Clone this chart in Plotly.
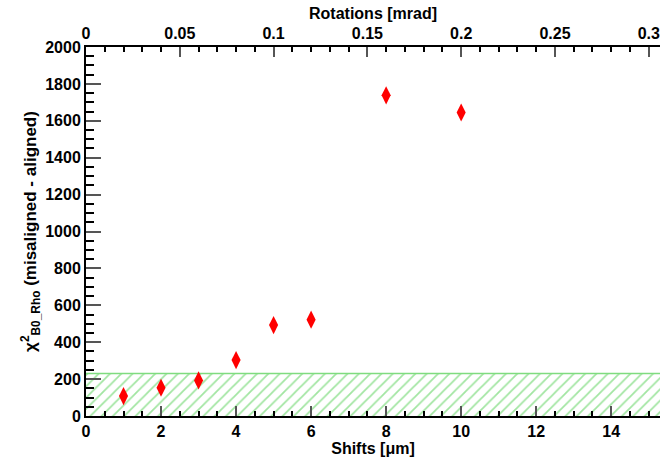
import plotly.graph_objects as go

shifts = [1, 2, 3, 4, 5, 6, 8, 10]
chi2 = [108, 153, 193, 303, 493, 522, 1738, 1645]
band_x = [0, 15.3, 15.3, 0]
band_y = [0, 0, 230, 230]

FONT = "Liberation Sans, Arial, sans-serif"

fig = go.Figure()
fig.add_trace(go.Scatter(
    x=band_x, y=band_y, fill="toself", mode="lines",
    line=dict(color="rgba(0,0,0,0)", width=0),
    fillcolor="white",
    fillpattern=dict(shape="/", fgcolor="#44cc44", bgcolor="white", size=8, solidity=0.22),
    hoverinfo="skip", showlegend=False))
fig.add_trace(go.Scatter(
    x=[0, 15.3], y=[230, 230], mode="lines",
    line=dict(color="#7fdc7f", width=1.5), showlegend=False, hoverinfo="skip"))
fig.add_trace(go.Scatter(
    x=shifts, y=chi2, mode="markers",
    marker=dict(symbol="diamond-tall", size=13, color="red"),
    showlegend=False))
fig.add_trace(go.Scatter(x=[0], y=[0], xaxis="x2", mode="markers",
                         marker=dict(opacity=0), showlegend=False, hoverinfo="skip"))

tickfont = dict(family=FONT, size=16, color="black", weight=700)
titlefont = dict(family=FONT, size=16, color="black", weight=700)
bold = dict(tickprefix="<b>", ticksuffix="</b>")

fig.update_layout(
    width=660, height=458,
    margin=dict(l=86, r=0, t=47, b=42),
    plot_bgcolor="white", paper_bgcolor="white",
    xaxis=dict(range=[0, 15.3], dtick=2, tick0=0, ticks="inside", ticklen=10,
               tickcolor="#555", tickwidth=1.5, showgrid=False, zeroline=False,
               showline=True, linecolor="black", linewidth=2,
               tickfont=tickfont, **bold,
               title=dict(text="<b>Shifts [μm]</b>", font=titlefont, standoff=1),
               minor=dict(dtick=0.5, ticks="inside", ticklen=5, tickcolor="black", showgrid=False)),
    xaxis2=dict(range=[0, 0.306], overlaying="x", side="top", dtick=0.05, tick0=0,
                ticks="inside", ticklen=10, tickcolor="#555", tickwidth=1.5,
                showgrid=False, zeroline=False, showline=True, linecolor="black", linewidth=2,
                tickfont=tickfont, **bold,
                title=dict(text="<b>Rotations [mrad]</b>", font=titlefont, standoff=1),
                minor=dict(dtick=0.01, ticks="inside", ticklen=5, tickcolor="black", showgrid=False)),
    yaxis=dict(range=[0, 2000], dtick=200, tick0=0, ticks="inside", ticklen=15,
               tickcolor="#555", tickwidth=1.5, showgrid=False, zeroline=False,
               showline=True, linecolor="black", linewidth=2,
               tickfont=tickfont, **bold,
               title=dict(text="<b>χ<sup>2</sup><sub>B0_Rho</sub> (misaligned - aligned)</b>",
                          font=dict(family=FONT, size=17, color="black", weight=700), standoff=4),
               minor=dict(dtick=50, ticks="inside", ticklen=8, tickcolor="black", showgrid=False)),
)

fig.write_html("out.html")
